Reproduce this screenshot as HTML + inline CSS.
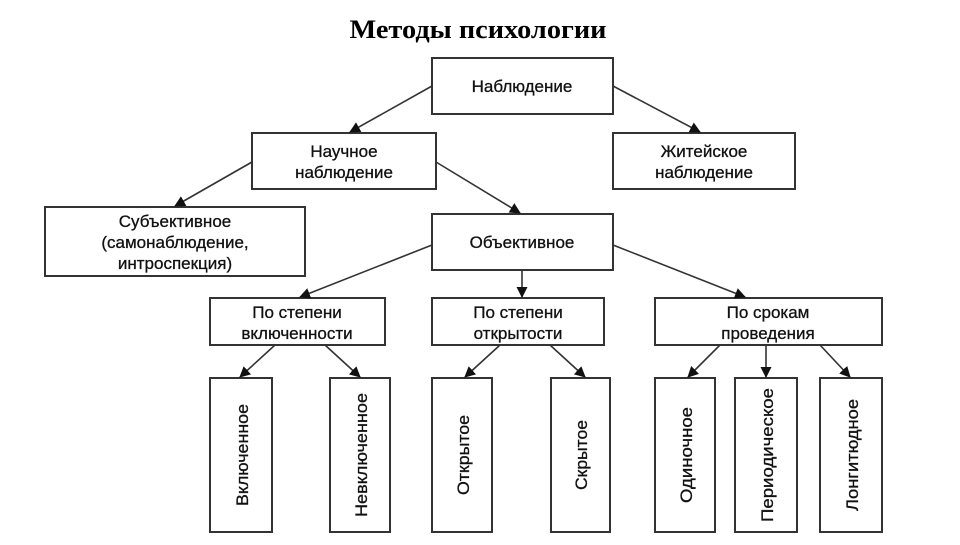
<!DOCTYPE html>
<html><head><meta charset="utf-8"><style>
body{margin:0;width:960px;height:540px;background:#fff;overflow:hidden}
</style></head><body>
<svg width="960" height="540" viewBox="0 0 960 540" xmlns="http://www.w3.org/2000/svg">
<defs><marker id="a" markerWidth="11" markerHeight="11" refX="10" refY="5.5" orient="auto" markerUnits="userSpaceOnUse"><path d="M0,0 L11,5.5 L0,11 z" fill="#111"/></marker></defs>
<text x="478" y="38" font-family="Liberation Serif,serif" font-weight="bold" font-size="26" text-anchor="middle" textLength="257" lengthAdjust="spacingAndGlyphs" fill="#000">Методы психологии</text>
<g fill="#fff" stroke="#333" stroke-width="2">
<rect x="432" y="58" width="181" height="56"/>
<rect x="252" y="133" width="184" height="56"/>
<rect x="613" y="133" width="182" height="56"/>
<rect x="45" y="207" width="260" height="69"/>
<rect x="432" y="214" width="181" height="56"/>
<rect x="210" y="298" width="175" height="47"/>
<rect x="432" y="298" width="172" height="47"/>
<rect x="655" y="298" width="227" height="47"/>
<rect x="210" y="378" width="62" height="154"/>
<rect x="330" y="378" width="60" height="154"/>
<rect x="432" y="378" width="60" height="154"/>
<rect x="551" y="378" width="59" height="154"/>
<rect x="655" y="378" width="60" height="154"/>
<rect x="735" y="378" width="62" height="154"/>
<rect x="820" y="378" width="62" height="154"/>
</g>
<g stroke="#333" stroke-width="1.6" marker-end="url(#a)">
<line x1="432" y1="86" x2="350" y2="132"/>
<line x1="613" y1="86" x2="700" y2="132"/>
<line x1="252" y1="162" x2="175" y2="206"/>
<line x1="436" y1="162" x2="520" y2="213"/>
<line x1="432" y1="245" x2="300" y2="297"/>
<line x1="522" y1="270" x2="522" y2="297"/>
<line x1="613" y1="245" x2="745" y2="297"/>
<line x1="275" y1="345" x2="240" y2="377"/>
<line x1="325" y1="345" x2="360" y2="377"/>
<line x1="500" y1="345" x2="465" y2="377"/>
<line x1="550" y1="345" x2="585" y2="377"/>
<line x1="720" y1="345" x2="688" y2="377"/>
<line x1="766" y1="345" x2="766" y2="377"/>
<line x1="820" y1="345" x2="850" y2="377"/>
</g>
<g font-family="Liberation Sans,sans-serif" font-size="17" fill="#111" text-anchor="middle" stroke="#111" stroke-width="0.3">
<text x="522" y="92">Наблюдение</text>
<text x="344" y="157">Научное</text><text x="344" y="178">наблюдение</text>
<text x="704" y="157">Житейское</text><text x="704" y="178">наблюдение</text>
<text x="175" y="227">Субъективное</text><text x="175" y="248">(самонаблюдение,</text><text x="175" y="269">интроспекция)</text>
<text x="522" y="248">Объективное</text>
<text x="297" y="318">По степени</text><text x="297" y="339">включенности</text>
<text x="518" y="318">По степени</text><text x="518" y="339">открытости</text>
<text x="768" y="318">По срокам</text><text x="768" y="339">проведения</text>
<text transform="translate(248,455) rotate(-90)" textLength="102" lengthAdjust="spacingAndGlyphs">Включенное</text>
<text transform="translate(367,455) rotate(-90)" textLength="124" lengthAdjust="spacingAndGlyphs">Невключенное</text>
<text transform="translate(469,455) rotate(-90)" textLength="80" lengthAdjust="spacingAndGlyphs">Открытое</text>
<text transform="translate(587,455) rotate(-90)" textLength="70" lengthAdjust="spacingAndGlyphs">Скрытое</text>
<text transform="translate(692,455) rotate(-90)" textLength="96" lengthAdjust="spacingAndGlyphs">Одиночное</text>
<text transform="translate(773,455) rotate(-90)" textLength="134" lengthAdjust="spacingAndGlyphs">Периодическое</text>
<text transform="translate(858,455) rotate(-90)" textLength="112" lengthAdjust="spacingAndGlyphs">Лонгитюдное</text>
</g>
</svg>
</body></html>
